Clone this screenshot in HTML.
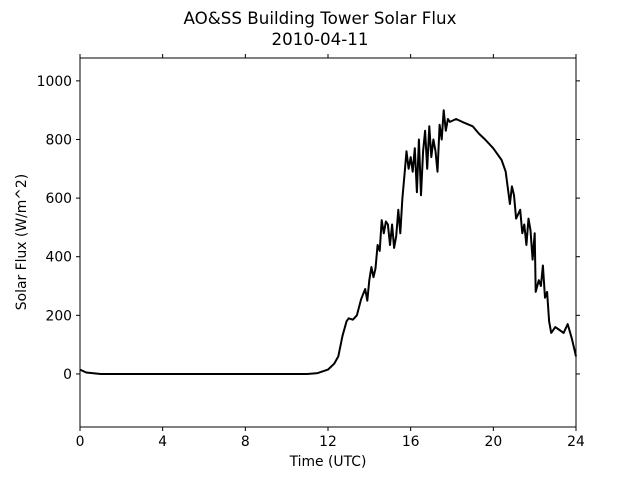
<!DOCTYPE html>
<html><head><meta charset="utf-8"><style>
body{margin:0;background:#fff;}
svg{display:block;font-family:"DejaVu Sans","Liberation Sans",sans-serif;}
</style></head><body>
<svg id="chart" width="640" height="480">
<text x="320" y="24" text-anchor="middle" font-size="16.7">AO&amp;SS Building Tower Solar Flux</text>
<text x="320" y="45" text-anchor="middle" font-size="16.7">2010-04-11</text>
<text x="328" y="466" text-anchor="middle" font-size="13.9">Time (UTC)</text>
<text x="26" y="242" text-anchor="middle" font-size="13.9" transform="rotate(-90 26 242)">Solar Flux (W/m^2)</text>
<g id="ticks"></g>
<path id="series" fill="none" stroke="#000" stroke-width="2" stroke-linejoin="round"></path>
<rect x="80" y="58" width="496" height="369" fill="none" stroke="#000" stroke-width="1"></rect>
</svg>
<script>
const hours=[0,0.3,1,11,11.5,12,12.3,12.5,12.7,12.9,13.0,13.2,13.4,13.6,13.8,13.9,14.0,14.1,14.2,14.3,14.4,14.5,14.6,14.7,14.8,14.9,15.0,15.1,15.2,15.3,15.4,15.5,15.6,15.7,15.8,15.9,16.0,16.1,16.2,16.3,16.4,16.5,16.6,16.7,16.8,16.9,17.0,17.1,17.2,17.3,17.4,17.5,17.6,17.7,17.8,17.9,18.2,18.5,19.0,19.3,19.6,20.0,20.4,20.6,20.8,20.9,21.0,21.1,21.3,21.4,21.5,21.6,21.7,21.8,21.9,22.0,22.05,22.2,22.3,22.4,22.5,22.6,22.7,22.8,23.0,23.2,23.4,23.6,23.8,24];
const flux=[15,5,0,0,3,15,35,60,130,180,190,185,200,255,290,250,320,365,330,360,440,420,525,480,520,510,440,510,430,470,560,480,600,680,760,700,740,690,770,620,800,610,760,830,700,845,740,800,760,690,850,800,900,830,870,860,870,860,845,820,800,770,730,690,580,640,610,530,560,480,510,440,530,490,390,480,280,320,300,370,260,280,180,140,160,150,140,170,120,60];
const xTicks=[0,4,8,12,16,20,24];
const yTicks=[0,200,400,600,800,1000];
const X0=80,X1=576,Y0=427,Y1=58,XMIN=0,XMAX=24,YMIN=-181,YMAX=1078;
const sx=v=>X0+(v-XMIN)/(XMAX-XMIN)*(X1-X0);
const sy=v=>Y0-(v-YMIN)/(YMAX-YMIN)*(Y0-Y1);
const NS="http://www.w3.org/2000/svg";
const g=document.getElementById('ticks');
function mk(tag,attrs){const e=document.createElementNS(NS,tag);for(const k in attrs)e.setAttribute(k,attrs[k]);g.appendChild(e);return e;}
xTicks.forEach(t=>{const x=sx(t);
 const a=mk('line',{x1:x,x2:x,y1:Y0,y2:Y0+4,stroke:'#000'});
 
 
 const b=mk('line',{x1:x,x2:x,y1:Y1,y2:Y1-4,stroke:'#000'});
 
 
 const l=mk('text',{x:x,y:Y0+19,'text-anchor':'middle','font-size':'13.9'});l.textContent=t;
 
 
});
yTicks.forEach(t=>{const y=sy(t);
 const a=mk('line',{x1:X0-4,x2:X0,y1:y,y2:y,stroke:'#000'});
 
 
 const b=mk('line',{x1:X1,x2:X1+4,y1:y,y2:y,stroke:'#000'});
 
 
 const l=mk('text',{x:X0-8,y:y+5,'text-anchor':'end','font-size':'13.9'});l.textContent=t;
 
 
});
document.getElementById('series').setAttribute('d',hours.map((h,i)=>(i?'L':'M')+sx(h).toFixed(1)+','+sy(flux[i]).toFixed(1)).join(''));
</script>
</body></html>
